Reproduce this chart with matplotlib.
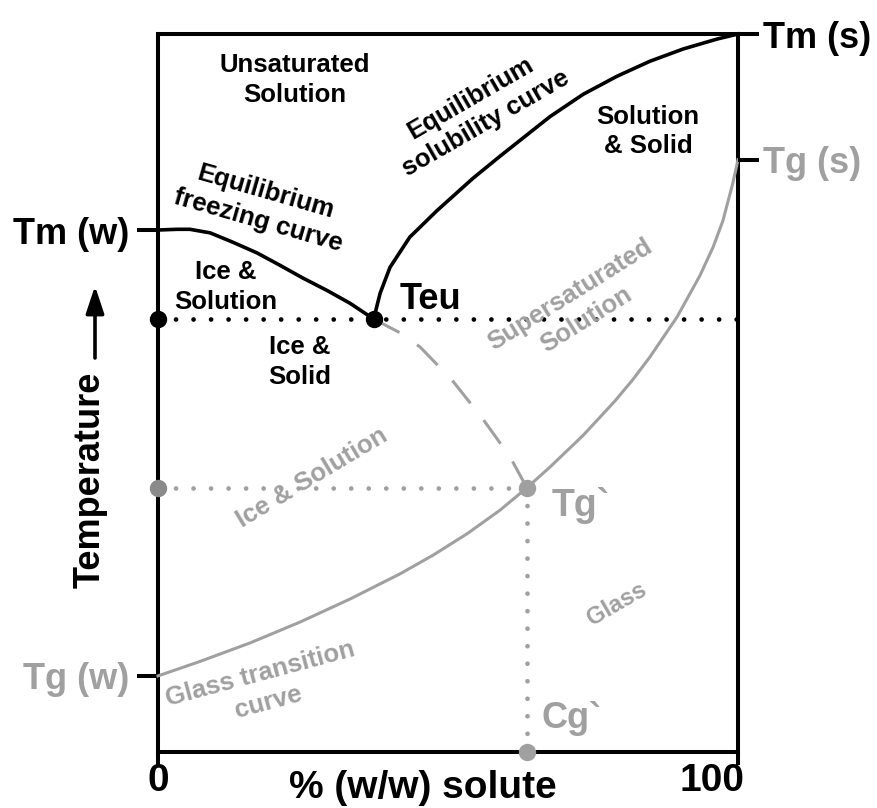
import matplotlib.pyplot as plt
import matplotlib.transforms as mtransforms

plt.rcParams['font.family'] = ['Liberation Sans', 'DejaVu Sans']
plt.rcParams['font.weight'] = 'bold'

BLACK = '#000000'
GREY = '#a0a0a0'
DGREY = '#8a8a8a'

# x: % (w/w) solute, y: temperature on an arbitrary 0-100 scale
freeze_x = [0, 3.3, 5.5, 9.0, 12.9, 17.1, 21.0, 25.0, 29.1, 33.1, 37.2]
freeze_y = [72.7, 72.8, 72.8, 72.3, 71.0, 69.5, 67.8, 66.0, 64.3, 62.5, 60.3]

solub_x = [37.2, 37.8, 38.3, 40.0, 43.4, 48.1, 54.3, 59.0, 67.6, 73.3, 79.1, 84.8, 90.5, 96.4, 100]
solub_y = [60.3, 62.3, 63.9, 67.5, 71.7, 75.4, 79.9, 83.0, 88.5, 91.6, 94.1, 96.2, 97.9, 99.3, 100]

meta_x = [37.2, 41.7, 45.2, 50.7, 55.9, 60.7, 63.6]
meta_y = [60.3, 58.4, 56.4, 51.8, 46.5, 41.1, 36.8]

glass_x = [0, 7.2, 15.9, 24.5, 33.1, 41.7, 47.4, 53.3, 59.0, 63.6, 67.6, 73.3, 78.8, 81.9,
           84.8, 89.5, 93.4, 95.7, 97.4, 99.1, 100]
glass_y = [10.6, 12.6, 15.2, 18.1, 21.3, 24.8, 27.4, 30.4, 33.7, 36.8, 39.7, 44.1, 48.9, 51.9,
           55.0, 60.6, 66.3, 70.3, 74.0, 79.2, 82.5]

T_eu = 60.3
C_eu = 37.2
T_g_prime = 36.8
C_g_prime = 63.6
Tm_w, Tg_w = 72.7, 10.6
Tm_s, Tg_s = 100, 82.5

fig = plt.figure(figsize=(8.77, 8.08), dpi=100)
ax = fig.add_axes([158 / 877, 1 - 752 / 808, 580 / 877, 718 / 808])
ax.set_xlim(0, 100)
ax.set_ylim(0, 100)
for s in ax.spines.values():
    s.set_linewidth(2.9)

# curves
ax.plot(freeze_x, freeze_y, color=BLACK, lw=2.6, solid_joinstyle='round', clip_on=False, zorder=4)
ax.plot(solub_x, solub_y, color=BLACK, lw=2.6, solid_joinstyle='round', clip_on=False, zorder=4)
ax.plot(meta_x, meta_y, color=GREY, lw=2.2, dashes=(9.5, 7), zorder=3)
ax.plot(glass_x, glass_y, color=GREY, lw=2.2, solid_joinstyle='round', clip_on=False, zorder=3)

# dotted guide lines
dot = dict(lw=3.4, dashes=(0.01, 3.7), dash_capstyle='round', zorder=2)
ax.plot([0, 100], [T_eu, T_eu], color=BLACK, **dot)
ax.plot([0, C_g_prime], [T_g_prime, T_g_prime], color=GREY, **dot)
ax.plot([C_g_prime, C_g_prime], [T_g_prime, 0], color=GREY, **dot)

# points
ax.plot([0, C_eu], [T_eu, T_eu], 'o', color=BLACK, ms=11.5, clip_on=False, zorder=6)
ax.plot([0], [T_g_prime], 'o', color=DGREY, ms=11.5, clip_on=False, zorder=6)
ax.plot([C_g_prime, C_g_prime], [T_g_prime, 0], 'o', color=GREY, ms=11.5, clip_on=False, zorder=6)

# ticks
ax.set_xticks([0, 100])
ax.set_xticklabels(['0', '100'], fontsize=28)
ax.tick_params(axis='x', direction='out', length=9, width=2.9, pad=-1)
lbl100 = ax.get_xticklabels()[1]
lbl100.set_ha('right')
lbl100.set_transform(lbl100.get_transform() +
                     mtransforms.ScaledTranslation(6 / 100, 0, fig.dpi_scale_trans))

ax.set_yticks([Tg_w, Tm_w])
ax.set_yticklabels(['Tg (w)', 'Tm (w)'], fontsize=26)
ax.tick_params(axis='y', direction='out', length=15, width=2.9, pad=6)
ax.get_yticklabels()[0].set_color(GREY)

ax2 = ax.twinx()
ax2.set_ylim(0, 100)
ax2.set_yticks([Tg_s, Tm_s])
ax2.set_yticklabels(['Tg (s)', 'Tm (s)'], fontsize=26)
ax2.tick_params(axis='y', direction='out', length=15, width=2.9, pad=3)
ax2.get_yticklabels()[0].set_color(GREY)
for s in ax2.spines.values():
    s.set_visible(False)

ax.text(45.7, -5.0, '% (w/w) solute', fontsize=28, ha='center', va='center')

# region labels
kw = dict(fontsize=18.5, ha='center', va='center', multialignment='center', linespacing=1.3)
ax.text(23.6, 93.6, 'Unsaturated\nSolution', color=BLACK, **kw)
ax.text(17.9, 76.0, 'Equilibrium\nfreezing curve', color=BLACK, rotation=-16, **kw)
ax.text(11.7, 64.8, 'Ice &\nSolution', color=BLACK, **kw)
ax.text(24.5, 54.3, 'Ice &\nSolid', color=BLACK, **kw)
ax.text(55.2, 89.3, 'Equilibrium\nsolubility curve', color=BLACK, rotation=30, **kw)
ax.text(84.5, 86.4, 'Solution\n& Solid', color=BLACK, **kw)
ax.text(72.4, 62.0, 'Supersaturated\nSolution', color=GREY, rotation=32, **kw)
ax.text(26.6, 38.2, 'Ice & Solution', color=GREY, rotation=31, **kw)
ax.text(18.3, 8.9, 'Glass transition\ncurve', color=GREY, rotation=15, **kw)
ax.text(79.1, 20.6, 'Glass', color=GREY, rotation=30, fontsize=17, ha='center', va='center')

ax.text(41.6, 63.0, 'Teu', color=BLACK, fontsize=26, ha='left', va='center')
ax.text(67.9, 34.4, 'Tg`', color=GREY, fontsize=27, ha='left', va='center')
ax.text(66.2, 4.7, 'Cg`', color=GREY, fontsize=26, ha='left', va='center')

# temperature axis label with arrow
fig.text(90 / 877, 1 - 480 / 808, 'Temperature', rotation=90, fontsize=26, ha='center', va='center')
ax.annotate('', xy=(95, 808 - 286), xytext=(95, 808 - 358), xycoords='figure pixels',
            textcoords='figure pixels',
            arrowprops=dict(arrowstyle='-|>,head_length=1.65,head_width=0.55', lw=2.6, color=BLACK,
                            shrinkA=0, shrinkB=0))

fig.savefig('out.png', dpi=100)
